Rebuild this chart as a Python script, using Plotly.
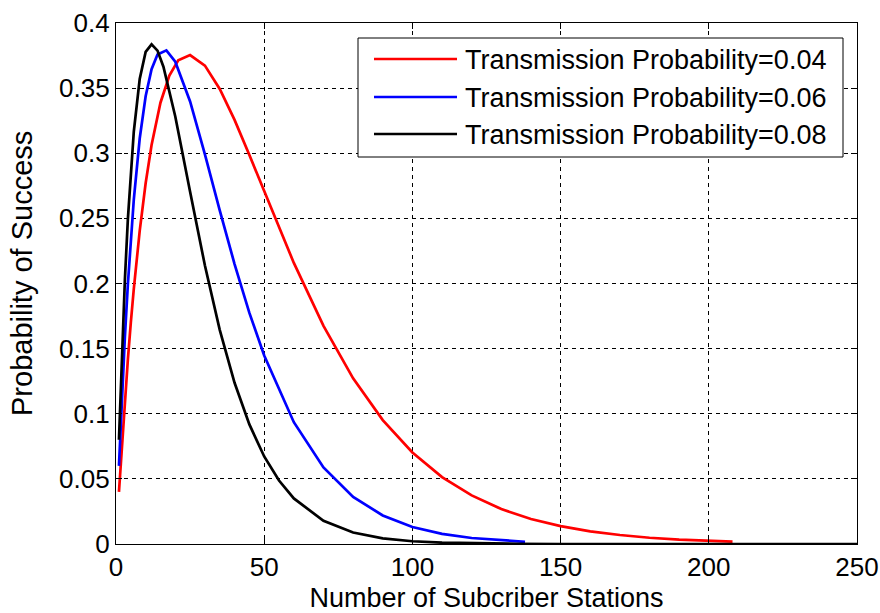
import plotly.graph_objects as go

# Number of subscriber stations (x) and probability of success (y)
x_red = [1, 2, 3, 4, 5, 6, 8, 10, 12, 15, 18, 21, 25, 30, 35, 40, 45, 50, 60, 70, 80, 90,
         100, 110, 120, 130, 140, 150, 160, 170, 180, 190, 200, 208]
y_red = [0.040, 0.0768, 0.1106, 0.1416, 0.1699, 0.1957, 0.2404, 0.2770, 0.3063, 0.3388,
         0.3597, 0.3713, 0.3754, 0.3673, 0.3494, 0.3256, 0.2986, 0.2706, 0.2158, 0.1675,
         0.1272, 0.0951, 0.0703, 0.0514, 0.0373, 0.0268, 0.0192, 0.0137, 0.0097, 0.0069,
         0.0048, 0.0034, 0.0024, 0.0018]

x_blue = [1, 2, 3, 4, 5, 6, 8, 10, 12, 14, 17, 20, 25, 30, 35, 40, 45, 50, 60, 70, 80, 90,
          100, 110, 120, 130, 138]
y_blue = [0.060, 0.1128, 0.1590, 0.1993, 0.2342, 0.2642, 0.3113, 0.3438, 0.3645, 0.3758,
          0.3790, 0.3703, 0.3398, 0.2992, 0.2562, 0.2149, 0.1774, 0.1447, 0.0935, 0.0588,
          0.0362, 0.0219, 0.0131, 0.0078, 0.0046, 0.0027, 0.0017]

x_black = [1, 2, 3, 4, 5, 6, 8, 10, 12, 14, 16, 20, 25, 30, 35, 40, 45, 50, 55, 60, 70, 80,
           90, 100, 110, 120, 135, 150, 200, 250]
y_black = [0.080, 0.1472, 0.2031, 0.2492, 0.2866, 0.3164, 0.3570, 0.3778, 0.3836, 0.3788,
           0.3664, 0.3282, 0.2704, 0.2138, 0.1644, 0.1238, 0.0918, 0.0672, 0.0487, 0.0350,
           0.0178, 0.0088, 0.0043, 0.0021, 0.0010, 0.0005, 0.0002, 0.0, 0.0, 0.0]

names = ["Transmission Probability=0.04", "Transmission Probability=0.06",
         "Transmission Probability=0.08"]
colors = ["#ff0000", "#0000ff", "#000000"]

FONT = "Liberation Sans, Arial, sans-serif"
W, H = 880, 613
L, R, T, B = 116, 23, 23, 69
PW, PH = W - L - R, H - T - B


def px_x(p):
    return (p - L) / PW


def px_y(p):
    return (H - B - p) / PH


fig = go.Figure()
series = [(x_red, y_red), (x_blue, y_blue), (x_black, y_black)]
for (xs, ys), nm, c in zip(series, names, colors):
    fig.add_trace(go.Scatter(x=xs, y=ys, mode="lines", name=nm, showlegend=False,
                             line=dict(color=c, width=2.7)))

axis_common = dict(
    showline=True, linecolor="black", linewidth=1.2, mirror="ticks",
    ticks="inside", ticklen=6, tickcolor="black",
    showgrid=True, gridcolor="black", gridwidth=1, griddash="4px,4px",
    zeroline=False, automargin=False,
    tickfont=dict(family=FONT, size=26, color="black"),
)

fig.update_layout(
    width=W, height=H,
    margin=dict(l=L, r=R, t=T, b=B),
    paper_bgcolor="white", plot_bgcolor="white",
    font=dict(family=FONT, color="black"),
    xaxis=dict(range=[0, 250], dtick=50, tick0=0,
               title=dict(text="Number of Subcriber Stations",
                          font=dict(family=FONT, size=27), standoff=8),
               **axis_common),
    yaxis=dict(range=[0, 0.4], dtick=0.05, tick0=0, **axis_common),
    showlegend=False,
)

# Legend box drawn to match the reference (box, long line samples, labels)
shapes = [dict(type="rect", xref="paper", yref="paper",
               x0=px_x(358), x1=px_x(843), y0=px_y(157), y1=px_y(38),
               line=dict(color="black", width=1), fillcolor="white", layer="above")]
annotations = [dict(xref="paper", yref="paper", x=px_x(22), y=px_y(274),
                    xanchor="center", yanchor="middle", textangle=-90,
                    text="Probability of Success", showarrow=False,
                    font=dict(family=FONT, size=29, color="black"))]
rows = [59, 97, 134]
for nm, c, ry in zip(names, colors, rows):
    shapes.append(dict(type="line", xref="paper", yref="paper",
                       x0=px_x(374), x1=px_x(457), y0=px_y(ry), y1=px_y(ry),
                       line=dict(color=c, width=2.7), layer="above"))
    annotations.append(dict(xref="paper", yref="paper", x=px_x(463), y=px_y(ry + 1),
                            xanchor="left", yanchor="middle", text=nm, showarrow=False,
                            font=dict(family=FONT, size=27, color="black")))
fig.update_layout(shapes=shapes, annotations=annotations)

fig.write_html("out.html")
